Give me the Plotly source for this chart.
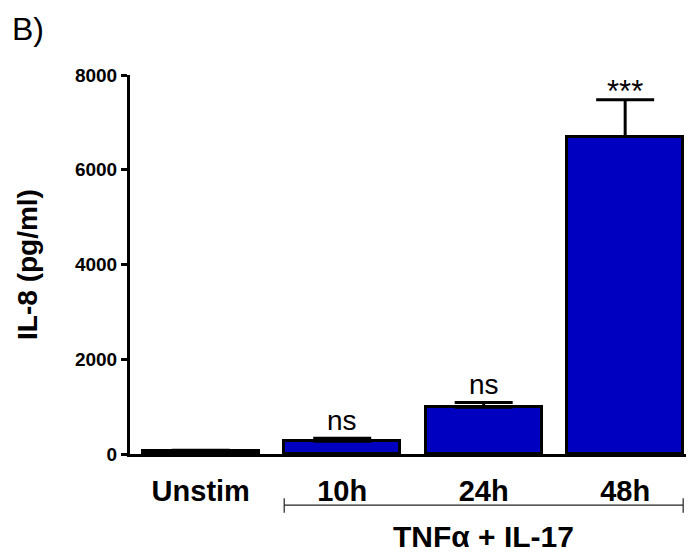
import plotly.graph_objects as go

# IL-8 secretion after TNFα + IL-17 stimulation
categories = ["Unstim", "10h", "24h", "48h"]
il8_mean = [60, 270, 985, 6700]
il8_sem = [20, 60, 100, 780]
significance = ["", "ns", "ns", "***"]
y_ticks = [0, 2000, 4000, 6000, 8000]

bar_width = 0.82
font = "Liberation Sans, Arial, sans-serif"

fig = go.Figure()
fig.add_trace(go.Bar(
    x=list(range(len(categories))),
    y=il8_mean,
    width=bar_width,
    marker=dict(color="#0000C0", line=dict(color="black", width=3)),
    error_y=dict(type="data", symmetric=False, array=il8_sem,
                 arrayminus=[0] * len(il8_sem),
                 color="black", thickness=3, width=29),
    showlegend=False,
))

# significance marks above each error bar
for i, (m, s, lab) in enumerate(zip(il8_mean, il8_sem, significance)):
    if not lab:
        continue
    fig.add_annotation(x=i, y=m + s, xref="x", yref="y", text=lab,
                       showarrow=False, yanchor="middle",
                       yshift=18 if lab == "ns" else 8,
                       font=dict(family=font, size=28 if lab == "ns" else 31,
                                 color="black"))

# bracket grouping the stimulated time points
x0, x1 = 1 - bar_width / 2, 3 + bar_width / 2
line_style = dict(color="#222222", width=1.2)
fig.add_shape(type="line", xref="x", yref="paper", x0=x0, x1=x1, y0=-0.135, y1=-0.135, line=line_style)
fig.add_shape(type="line", xref="x", yref="paper", x0=x0, x1=x0, y0=-0.117, y1=-0.155, line=line_style)
fig.add_shape(type="line", xref="x", yref="paper", x0=x1, x1=x1, y0=-0.117, y1=-0.155, line=line_style)
fig.add_annotation(x=2, y=-0.218, xref="x", yref="paper", text="<b>TNFα + IL-17</b>",
                   showarrow=False, yanchor="middle",
                   font=dict(family=font, size=30, color="black"))

# panel letter
fig.add_annotation(x=0.0, y=1.0, xref="paper", yref="paper", text="B)",
                   showarrow=False, xanchor="left", yanchor="top",
                   xshift=-120, yshift=66,
                   font=dict(family=font, size=32, color="black"))

fig.update_layout(
    width=688, height=553,
    margin=dict(l=130, r=2, t=75, b=99),
    paper_bgcolor="white", plot_bgcolor="white",
    bargap=0,
    xaxis=dict(range=[-0.5, 3.43], tickmode="array",
               tickvals=list(range(len(categories))),
               ticktext=[f"<b>{c}</b>" for c in categories],
               showline=True, linecolor="black", linewidth=3,
               ticks="", showgrid=False, zeroline=False,
               ticklabelstandoff=9,
               tickfont=dict(family=font, size=29, color="black")),
    yaxis=dict(range=[0, 8000], tickmode="array", tickvals=y_ticks,
               ticktext=[f"<b>{v}</b>" for v in y_ticks],
               showline=True, linecolor="black", linewidth=3,
               ticks="outside", ticklen=6, tickwidth=3, tickcolor="black",
               showgrid=False, zeroline=False,
               tickfont=dict(family=font, size=19, color="black"),
               title=dict(text="<b>IL-8 (pg/ml)</b>", standoff=30,
                          font=dict(family=font, size=28, color="black"))),
)

fig.write_html("out.html")
